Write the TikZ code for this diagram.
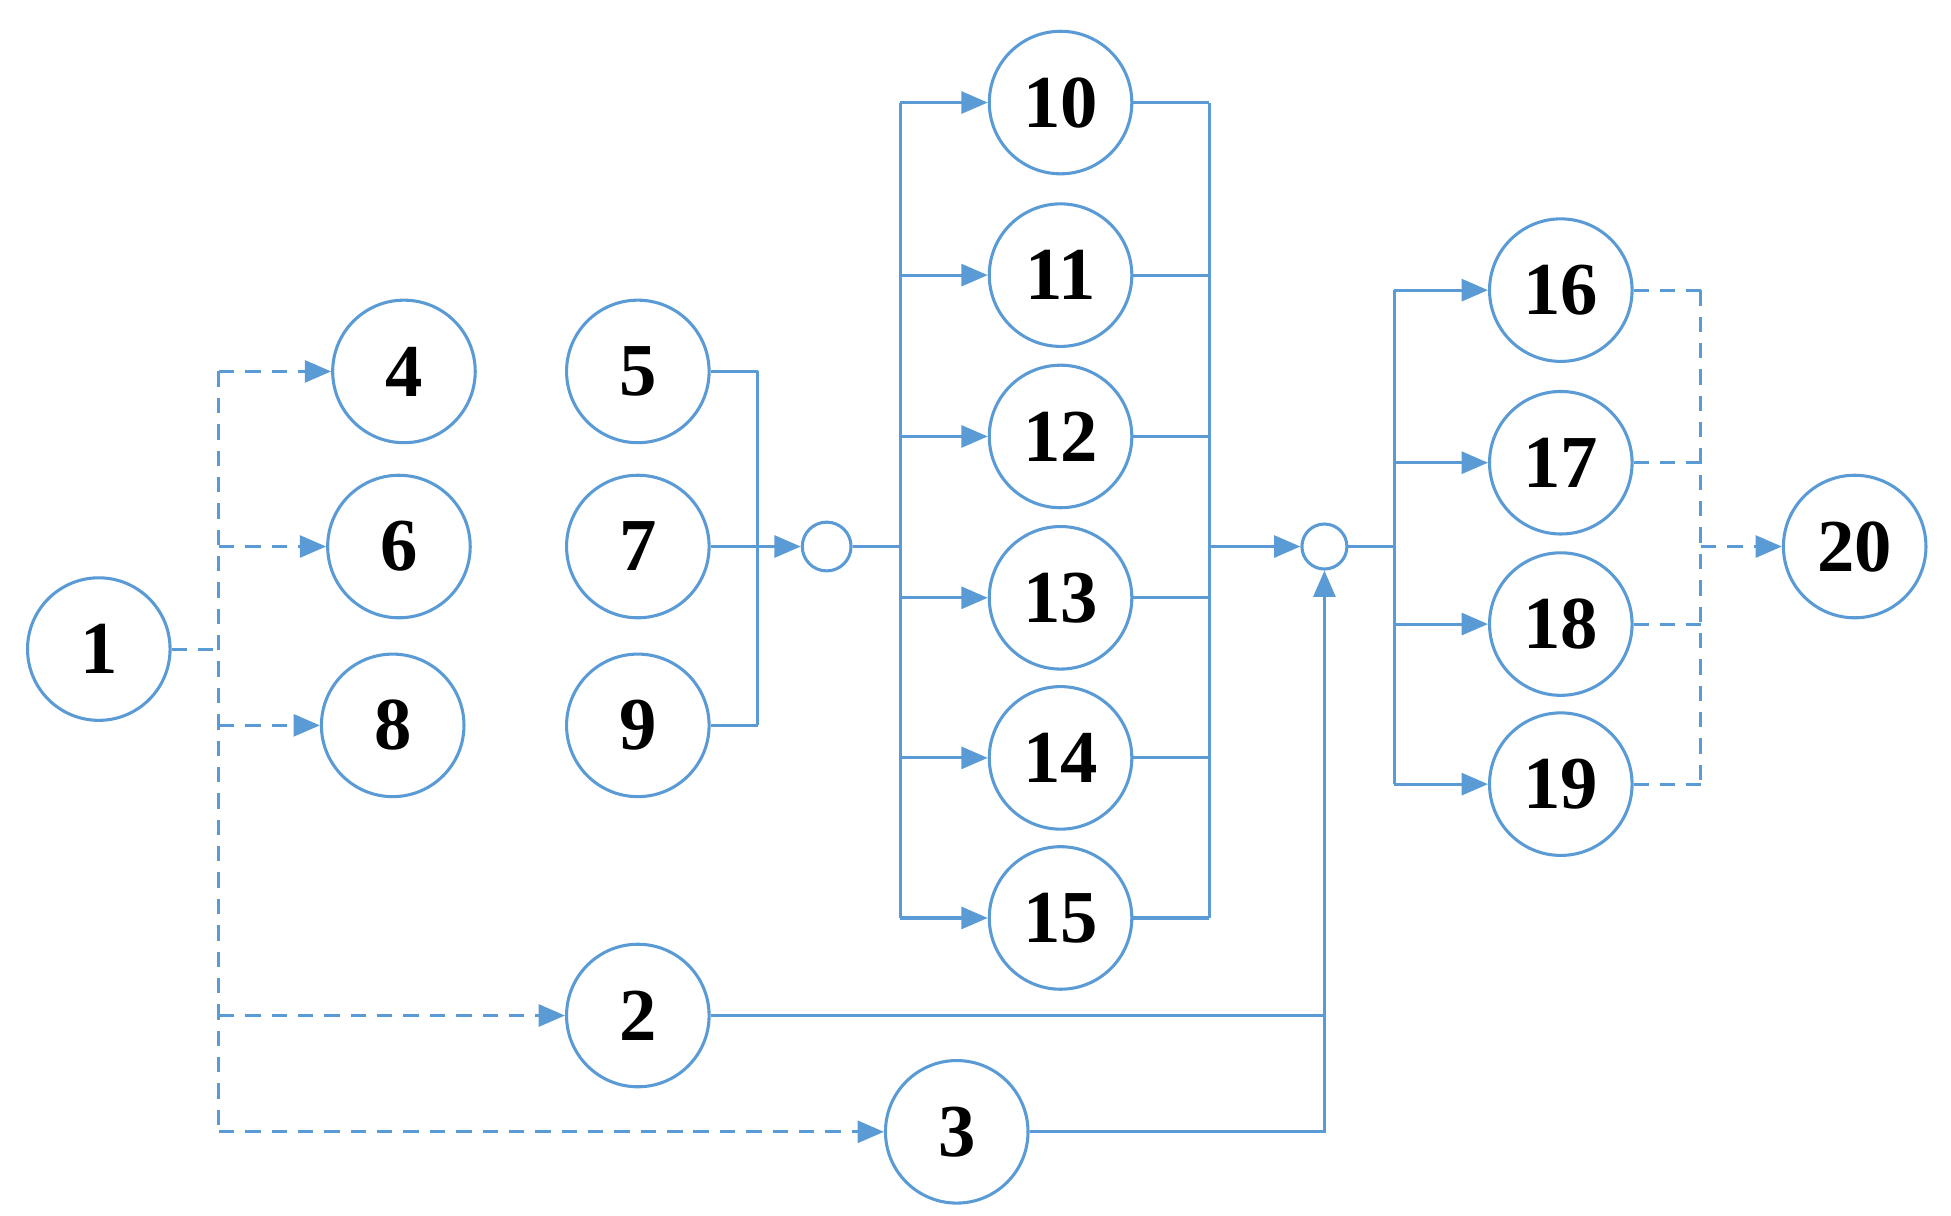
\documentclass[tikz,border=0pt]{standalone}
\usepackage{fontspec}
\setmainfont{Liberation Serif}
\usetikzlibrary{arrows.meta}
\definecolor{bl}{HTML}{5B9BD5}
\begin{document}
\begin{tikzpicture}[x=0.02cm,y=-0.02cm,
  n/.style={circle,draw=bl,line width=1.4pt,minimum size=2.28cm,inner sep=0pt,font=\fontsize{34}{40}\selectfont\bfseries},
  j/.style={circle,draw=bl,line width=1.4pt,minimum size=0.78cm,inner sep=0pt},
  ln/.style={draw=bl,line width=1.4pt},
  ds/.style={ln,dash pattern=on 7pt off 5pt},
  ar/.style={-{Triangle[length=12pt,width=10pt]}}]
\useasboundingbox (0,0) rectangle (1560,972);
\node[n] (n1) at (79,519) {1};
\node[n] (n4) at (323,297) {4};
\node[n] (n5) at (510,297) {5};
\node[n] (n6) at (319,437) {6};
\node[n] (n7) at (510,437) {7};
\node[n] (n8) at (314,580) {8};
\node[n] (n9) at (510,580) {9};
\node[n] (n2) at (510,812) {2};
\node[n] (n3) at (765,905) {3};
\node[j] (A) at (661,437) {};
\foreach \k/\y in {10/82,11/220,12/349,13/478,14/606,15/734}{\node[n] (n\k) at (848,\y) {\k};}
\node[j,minimum size=0.72cm] (B) at (1059,437) {};
\foreach \k/\y in {16/232,17/370,18/499,19/627}{\node[n] (n\k) at (1248,\y) {\k};}
\node[n] (n20) at (1483,437) {20};
% coordinates
\coordinate (d1) at (175,519);
\coordinate (dt) at (175,297);
\coordinate (db) at (175,905);
\draw[ds] (n1) -- (d1);
\draw[ds] (dt) -- (db);
\foreach \t in {n4,n6,n8,n2,n3}{\draw[ds,ar] (175,0 |- \t) -- (\t);}
\foreach \t in {n5,n7,n9}{\draw[ln] (\t) -- (606,0 |- \t);}
\draw[ln] (606,297) -- (606,580);
\draw[ln,ar] (606,437) -- (A);
\draw[ln] (A) -- (720,437);
\draw[ln] (720,82) -- (720,734);
\foreach \k in {10,...,15}{\draw[ln,ar] (720,0 |- n\k) -- (n\k); \draw[ln] (n\k) -- (967,0 |- n\k);}
\draw[ln] (967,82) -- (967,734);
\draw[ln,ar] (967,437) -- (B);
\draw[ln] (n2) -- (1059,812);
\draw[ln,ar] (n3) -| (B);
\draw[ln] (B) -- (1115,437);
\draw[ln] (1115,232) -- (1115,627);
\foreach \k in {16,...,19}{\draw[ln,ar] (1115,0 |- n\k) -- (n\k); \draw[ds] (n\k) -- (1360,0 |- n\k);}
\draw[ds] (1360,232) -- (1360,627);
\draw[ds,ar] (1360,437) -- (n20);
\end{tikzpicture}
\end{document}
